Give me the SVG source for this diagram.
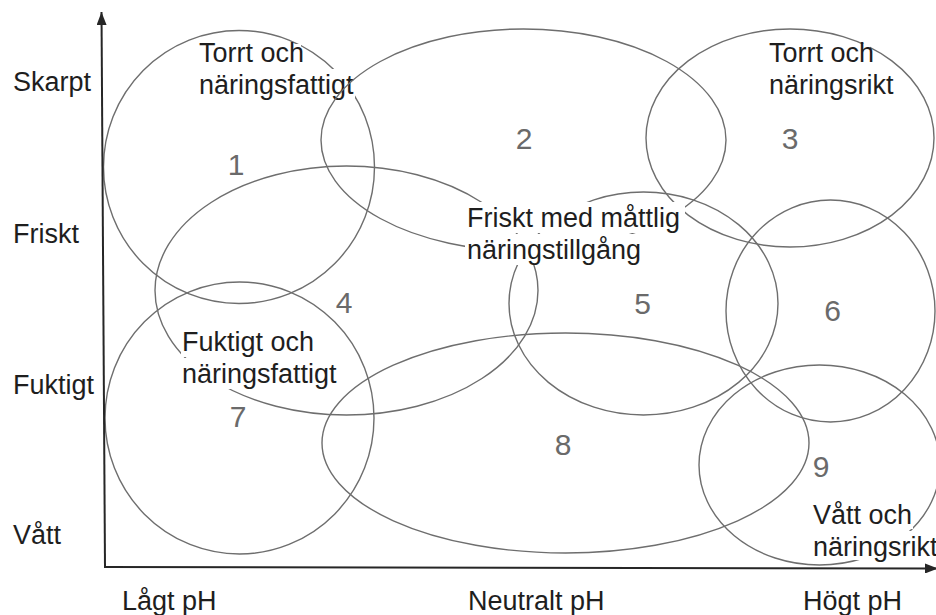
<svg xmlns="http://www.w3.org/2000/svg" width="936" height="615" viewBox="0 0 936 615">
<defs>
<style>
.e{fill:none;stroke:#6e6e6e;stroke-width:1.4}
.ax{fill:none;stroke:#262626;stroke-width:2}
.t{font-family:"Liberation Sans",Arial,sans-serif;font-size:27px;fill:#1e1e1e}
.n{font-family:"Liberation Sans",Arial,sans-serif;font-size:30px;fill:#6a6a6a;text-anchor:middle}
.bg{fill:#ffffff}
</style>
<marker id="arr" viewBox="0 0 13 10" refX="13" refY="5" markerWidth="13" markerHeight="10" markerUnits="userSpaceOnUse" orient="auto">
<path d="M0,0 L13,5 L0,10 z" fill="#262626"/>
</marker>
</defs>
<rect width="936" height="615" fill="#ffffff"/>

<g id="region1">
<ellipse class="e" cx="239" cy="167" rx="135.5" ry="136.5"/>
<text class="n" x="236" y="175">1</text>
<rect class="bg" x="198" y="44" width="103" height="23"/>
<rect class="bg" x="198" y="69" width="157" height="29"/>
<text class="t" x="199" y="62">Torrt och</text>
<text class="t" x="199" y="94">näringsfattigt</text>
</g>

<g id="region2">
<ellipse class="e" cx="523.5" cy="140" rx="202.5" ry="111"/>
<text class="n" x="524" y="149">2</text>
</g>

<g id="region3">
<ellipse class="e" cx="790" cy="138" rx="144" ry="109"/>
<text class="n" x="790" y="149">3</text>
<rect class="bg" x="768" y="44" width="102" height="23"/>
<rect class="bg" x="768" y="69" width="127" height="29"/>
<text class="t" x="769" y="62">Torrt och</text>
<text class="t" x="769" y="94">näringsrikt</text>
</g>

<g id="region4">
<ellipse class="e" cx="346.5" cy="290.5" rx="191.5" ry="124.5"/>
<text class="n" x="344" y="313">4</text>
</g>

<g id="region5">
<ellipse class="e" cx="643.5" cy="303.5" rx="134.5" ry="111.5"/>
<text class="n" x="642.5" y="314">5</text>
<rect class="bg" x="465" y="202" width="220" height="31"/>
<rect class="bg" x="465" y="234" width="179" height="31"/>
<text class="t" x="467" y="227">Friskt med måttlig</text>
<text class="t" x="467" y="259">näringstillgång</text>
</g>

<g id="region6">
<ellipse class="e" cx="830.5" cy="311" rx="104.5" ry="111"/>
<text class="n" x="832.5" y="321">6</text>
</g>

<g id="region7">
<ellipse class="e" cx="239.5" cy="418" rx="134.5" ry="136"/>
<text class="n" x="238" y="427">7</text>
<rect class="bg" x="181" y="326" width="134" height="31"/>
<rect class="bg" x="181" y="358" width="157" height="31"/>
<text class="t" x="182" y="351">Fuktigt och</text>
<text class="t" x="182" y="383">näringsfattigt</text>
</g>

<g id="region8">
<ellipse class="e" cx="565.5" cy="443" rx="243.5" ry="110"/>
<text class="n" x="563" y="455">8</text>
</g>

<g id="region9">
<ellipse class="e" cx="819.5" cy="465" rx="120.5" ry="100"/>
<text class="n" x="821" y="477">9</text>
<rect class="bg" x="811" y="500" width="102" height="29"/>
<rect class="bg" x="811" y="531" width="125" height="29"/>
<text class="t" x="813" y="524">Vått och</text>
<text class="t" x="813" y="556">näringsrikt</text>
</g>

<g id="connectors">
<path class="ax" d="M105,568 L101.5,12" marker-end="url(#arr)"/>
<path class="ax" d="M104,567 L938,568.5" marker-end="url(#arr)"/>
</g>

<g id="axis-labels">
<text class="t" x="13" y="91">Skarpt</text>
<text class="t" x="13" y="243">Friskt</text>
<text class="t" x="13" y="394">Fuktigt</text>
<text class="t" x="13" y="544">Vått</text>
<text class="t" x="122" y="610">Lågt pH</text>
<text class="t" x="468" y="610">Neutralt pH</text>
<text class="t" x="803" y="610">Högt pH</text>
</g>
</svg>
